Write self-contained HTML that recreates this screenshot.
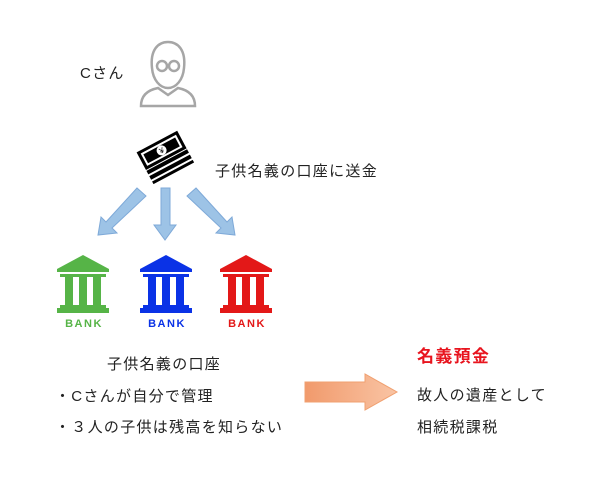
<!DOCTYPE html>
<html><head><meta charset="utf-8"><style>
body{margin:0;background:#fff;}
.t{position:absolute;font-family:"Liberation Sans","Noto Sans CJK JP",sans-serif;font-size:15px;color:#222;white-space:nowrap;line-height:1;letter-spacing:1.3px}
</style></head><body>
<div style="position:relative;width:612px;height:481px;overflow:hidden">
<svg width="612" height="481" style="position:absolute;left:0;top:0">
<defs>
<linearGradient id="og" x1="0" x2="1"><stop offset="0" stop-color="#f19a6c"/><stop offset="1" stop-color="#f9c4a4"/></linearGradient>
<g id="bank">
<polygon points="0,14 26,0 52,14 52,17 0,17"/>
<rect x="3" y="19" width="46" height="3"/>
<rect x="8" y="22" width="8" height="28"/>
<rect x="22" y="22" width="8" height="28"/>
<rect x="36" y="22" width="8" height="28"/>
<rect x="3" y="50" width="46" height="3"/>
<rect x="0" y="53" width="52" height="5"/>
</g>
</defs>
<g fill="none" stroke="#a6a6a6" stroke-width="2.5">
<path d="M152,68 C150,50 158,42 168,42 C178,42 186,50 184,68 C183,80 176,88 168,88 C160,88 153,80 152,68 Z"/>
<path d="M141,106 C141,95 148,90 158,88 L168,95 L178,88 C188,90 195,95 195,106 Z"/>
<circle cx="162" cy="66" r="5"/><circle cx="174" cy="66" r="5"/>
</g>
<g transform="translate(163,153) rotate(-28)">
<rect x="-23" y="8" width="46" height="4" fill="#000"/>
<rect x="-23" y="14" width="46" height="4" fill="#000"/>
<rect x="-23" y="20" width="46" height="3" fill="#000"/>
<rect x="-23" y="-13" width="46" height="20" fill="#000"/>
<rect x="-20" y="-10" width="40" height="14" fill="#fff"/>
<rect x="-18" y="-8" width="36" height="10" fill="#000"/>
<circle cx="0" cy="-3" r="5" fill="#fff"/>
<text x="0" y="0" font-size="8" text-anchor="middle" font-family="Liberation Sans">¥</text>
</g>
<g fill="#9dc3e6" stroke="#7ea9d8" stroke-width="1">
<polygon points="137,188 146,196 112,228 117,233 98,235 101,217 106,222"/>
<polygon points="161,188 170,188 170,225 176,225 165,240 154,225 161,225"/>
<polygon points="196,188 187,196 221,228 216,233 235,235 232,217 227,222"/>
</g>
<use href="#bank" x="57" y="255" fill="#56b447"/>
<use href="#bank" x="140" y="255" fill="#0a32e6"/>
<use href="#bank" x="220" y="255" fill="#e31818"/>
<g font-family="Liberation Sans" font-weight="bold" font-size="11" text-anchor="middle" letter-spacing="1.5">
<text x="84" y="327" fill="#56b447">BANK</text>
<text x="167" y="327" fill="#0a32e6">BANK</text>
<text x="247" y="327" fill="#e31818">BANK</text>
</g>
<polygon points="305,382 365,382 365,374 397,392 365,410 365,402 305,402" fill="url(#og)" stroke="#f0a070" stroke-width="1"/>
</svg>
<div class="t" style="left:80px;top:66px">Cさん</div>
<div class="t" style="left:215px;top:164px">子供名義の口座に送金</div>
<div class="t" style="left:107px;top:357px">子供名義の口座</div>
<div class="t" style="left:55px;top:389px">・Cさんが自分で管理</div>
<div class="t" style="left:55px;top:420px">・３人の子供は残高を知らない</div>
<div class="t" style="left:417px;top:348px;font-size:17px;font-weight:bold;color:#e8141e">名義預金</div>
<div class="t" style="left:417px;top:388px">故人の遺産として</div>
<div class="t" style="left:417px;top:420px">相続税課税</div>
</div>
</body></html>
